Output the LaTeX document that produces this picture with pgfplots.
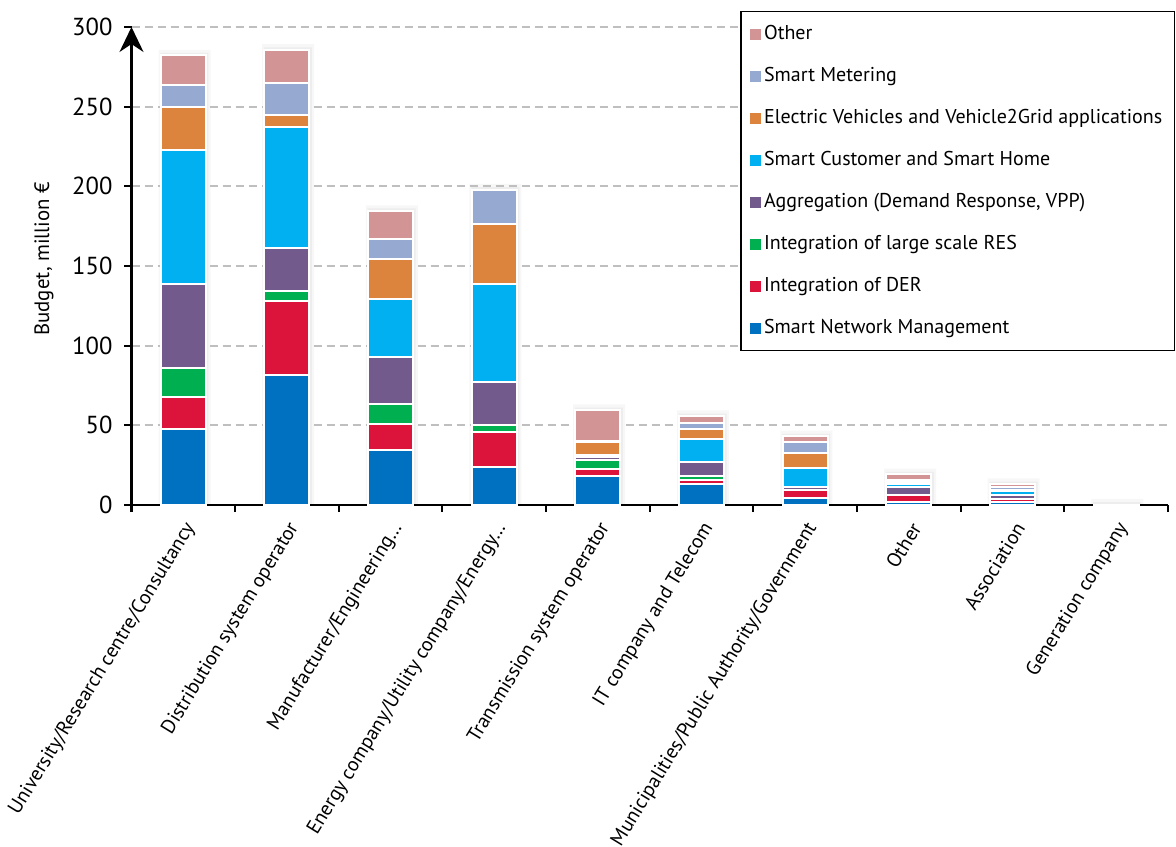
\documentclass[border=0pt]{standalone}
\usepackage{fontspec}
\setmainfont{PT Sans}
\usepackage{pgfplots}
\pgfplotsset{compat=1.18}
\usepackage{pgfplotstable}
\usetikzlibrary{arrows.meta}

\definecolor{cSNM}{RGB}{0,112,192}
\definecolor{cDER}{RGB}{220,20,60}
\definecolor{cRES}{RGB}{0,176,80}
\definecolor{cAGG}{RGB}{114,90,140}
\definecolor{cSC}{RGB}{0,176,240}
\definecolor{cEV}{RGB}{220,132,62}
\definecolor{cSM}{RGB}{149,169,209}
\definecolor{cOTH}{RGB}{210,148,148}

\pgfplotstableread{
cat SNM  DER  RES  AGG  SC   EV   SM   OTH
0   47.7 20.2 18.2 52.5 84.0 27.2 13.6 18.8
1   81.5 46.6 6.3  26.6 76.3 7.3  20.5 20.6
2   34.5 16.3 12.5 29.7 36.6 25.1 12.1 17.8
3   24.0 21.6 4.6  26.7 61.5 37.8 21.8 0
4   18.4 4.4  5.2  2.0  1.5  7.8  1.0  19.3
5   13.2 2.7  2.1  9.0  14.6 5.9  4.0  4.4
6   4.4  5.0  0.3  1.6  11.8 9.6  7.0  3.5
7   2.0  4.0  0.4  5.2  1.8  1.2  0.8  3.9
8   1.8  1.8  0.4  2.0  3.0  0.6  1.9  1.7
9   0.3  0    0    0    0    0    0    0
}\budget

\begin{document}
\begin{tikzpicture}
\pgfplotsset{
  common/.style={
    width=518.25pt, height=239pt, scale only axis,
    xmin=-0.5, xmax=9.5, ymin=0, ymax=300,
  }
}
% soft shadows behind the stacks
\begin{axis}[common, hide axis, ybar, bar width=26pt, bar shift=0.6pt]
\addplot[fill=black!3, draw=none] table[x=cat, y expr=\thisrow{SNM}+\thisrow{DER}+\thisrow{RES}+\thisrow{AGG}+\thisrow{SC}+\thisrow{EV}+\thisrow{SM}+\thisrow{OTH}+3.5] {\budget};
\end{axis}
\begin{axis}[common, hide axis, ybar, bar width=24pt, bar shift=0.5pt]
\addplot[fill=black!7, draw=none] table[x=cat, y expr=\thisrow{SNM}+\thisrow{DER}+\thisrow{RES}+\thisrow{AGG}+\thisrow{SC}+\thisrow{EV}+\thisrow{SM}+\thisrow{OTH}+1.5] {\budget};
\end{axis}
\begin{axis}[common,
  ybar stacked, bar width=22.5pt,
  axis x line*=bottom, axis y line*=left,
  axis line style={line width=1pt, black},
  y axis line style={-{Stealth[length=12.5pt, width=12pt, inset=4pt]}},
  x axis line style={-},
  ytick={0,50,...,300},
  xtick={-0.5,0.5,...,9.5},
  x tick label as interval,
  xticklabels={University/Research centre/Consultancy, Distribution system operator, Manufacturer/Engineering…, Energy company/Utility company/Energy…, Transmission system operator, IT company and Telecom, Municipalities/Public Authority/Government, Other, Association, Generation company},
  xticklabel style={rotate=58.5, anchor=east, yshift=-6.5pt, font=\fontsize{10}{12}\selectfont},
  yticklabel style={xshift=-2.5pt, font=\fontsize{12.3}{14}\selectfont},
  /pgf/number format/assume math mode=true,
  ylabel={Budget, million €},
  ylabel style={font=\fontsize{10.4}{12}\selectfont, at={(axis description cs:-0.0845,0.515)}, anchor=center},
  ymajorgrids,
  grid style={dash pattern=on 4pt off 2.5pt, line width=1pt, color=black!25},
  tick align=outside, major tick length=3.5pt,
  tick style={line width=1pt, black},
  every axis plot/.append style={draw=white, line width=1pt},
  reverse legend,
  legend cell align=left,
  legend image code/.code={\fill[#1, draw=none] (0pt,-2.75pt) rectangle (5.5pt,2.75pt);},
  legend style={at={(1,1)}, anchor=north east, xshift=3.5pt, yshift=8pt,
    draw=black, line width=0.7pt, font=\fontsize{10}{12}\selectfont,
    inner sep=4.5pt, row sep=7.5pt,
    /tikz/every even column/.append style={column sep=1.5pt},
    nodes={inner sep=1.5pt, text height=8pt, text depth=2.5pt, anchor=west}},
]
\addplot[fill=cSNM] table[x=cat, y=SNM] {\budget};
\addlegendentry{Smart Network Management}
\addplot[fill=cDER] table[x=cat, y=DER] {\budget};
\addlegendentry{Integration of DER}
\addplot[fill=cRES] table[x=cat, y=RES] {\budget};
\addlegendentry{Integration of large scale RES}
\addplot[fill=cAGG] table[x=cat, y=AGG] {\budget};
\addlegendentry{Aggregation (Demand Response, VPP)}
\addplot[fill=cSC] table[x=cat, y=SC] {\budget};
\addlegendentry{Smart Customer and Smart Home}
\addplot[fill=cEV] table[x=cat, y=EV] {\budget};
\addlegendentry{Electric Vehicles and Vehicle2Grid applications}
\addplot[fill=cSM] table[x=cat, y=SM] {\budget};
\addlegendentry{Smart Metering}
\addplot[fill=cOTH] table[x=cat, y=OTH] {\budget};
\addlegendentry{Other}
\end{axis}
\pgfresetboundingbox
\path ([shift={(-65.75pt,-170.5pt)}]current axis.south west) rectangle ([shift={(522.25pt,252.5pt)}]current axis.south west);
\end{tikzpicture}
\end{document}
